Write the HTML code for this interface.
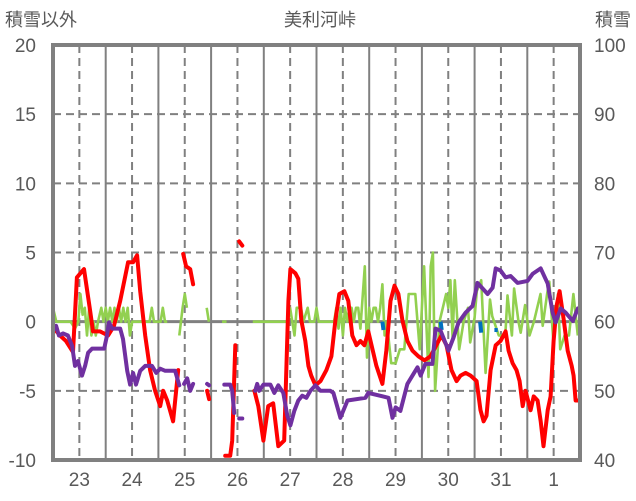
<!DOCTYPE html>
<html><head><meta charset="utf-8">
<style>
html,body{margin:0;padding:0;background:#fff;width:636px;height:501px;overflow:hidden}
svg{display:block;font-family:"Liberation Sans","Noto Sans CJK JP",sans-serif}
</style></head>
<body>
<svg id="chart" width="636" height="501">
<text x="5" y="26" font-size="18" fill="#595959">積雪以外</text>
<text x="320" y="26" font-size="18" fill="#595959" text-anchor="middle">美利河峠</text>
<text x="631" y="26" font-size="18" fill="#595959" text-anchor="end">積雪</text>
<g id="grid"></g><g id="series"></g><g id="axes"></g>
</svg>
<script>
const leftTicks=[20,15,10,5,0,-5,-10];
const rightTicks=[100,90,80,70,60,50,40];
const dayLabels=["23","24","25","26","27","28","29","30","31","1"];
// red series (left axis): hours from 23rd 00:00, values; null = gap
const redH=[0,3.2,5.9,9.1,10.9,14.1,16.9,18.2,21.4,25.1,27.8,30.6,34.2,36.5,38.3,39.7,42,44.2,46.5,48.8,50.2,52,54.7,57,null,59.3,60.6,62.5,63.8,null,70.2,71.1,null,78.4,80.7,81.6,83,null,84.8,86.2,null,91.7,93.5,95.8,98,100.3,102.6,105.3,107.2,108.1,110.4,111.7,113.1,114.9,116.3,117.6,119.5,121.8,124.5,126.8,128.6,130.4,132.7,134.5,136.3,138.2,140,141.8,143.6,147.3,150,151.8,153.7,155.5,157.3,159.1,161.4,163.7,166.4,169.2,171.9,174.6,176.9,179.2,181.5,183.8,185.6,187.9,190.2,192.9,194.7,196.1,197.4,199.3,201.6,203.8,206.1,207.5,209.3,211.1,212.5,213.9,215.2,217.5,218.9,220.7,222.1,223.4,225.3,226.6,228,229.4,230.7,232.6,234.4,236.2,237.1,238,239.4];
const redV=[-0.4,-1.0,-1.4,-2.2,3.2,3.8,0.8,-0.7,-0.7,-1.0,-0.3,1.5,4.3,4.3,4.8,2.2,-1.0,-3.5,-5.0,-6.1,-5.0,-5.7,-7.2,-3.5,null,4.9,4.0,3.8,2.7,null,-5.0,-5.6,null,-9.7,-9.7,-8.6,-1.7,null,5.8,5.5,null,-5.0,-6.1,-8.6,-6.1,-5.9,-9.0,-8.6,1.5,3.8,3.5,3.1,0.1,-1.4,-3.2,-3.9,-4.6,-4.3,-3.5,-2.5,0.1,2.0,2.2,1.5,-1.0,-1.7,-1.4,-1.7,-0.7,-3.2,-4.5,-2.1,1.5,2.6,2.0,0.1,-1.4,-2.1,-2.5,-2.8,-2.5,-1.7,-1.0,-1.7,-3.5,-4.3,-3.9,-3.7,-3.9,-4.3,-6.4,-7.2,-6.8,-3.5,-1.7,-1.4,-0.7,-2.1,-3.0,-3.5,-4.3,-6.1,-5.0,-6.4,-5.4,-5.7,-7.2,-9.0,-6.4,-5.4,-1.4,1.2,2.2,0.1,-2.1,-3.2,-3.9,-5.7,-5.7];
// purple snow depth (right axis)
const snowH=[0,1.4,2.7,4.6,6.8,8.7,10,11.4,13.2,14.6,16,17.8,21.4,23.3,24.6,25.5,26.9,30.6,31.9,33.8,35.1,36.5,37.8,39.7,42,45.1,47,48.8,51.1,55.6,57.5,null,59.7,61.1,62.5,63.8,null,70.2,71.1,null,78,80.7,81.6,82.5,null,84.8,86.2,null,92.1,93,93.9,95.8,99,100.8,102.6,104.9,106.7,108.1,109.9,111.7,113.5,115.4,117.2,119.5,121.8,126.3,127.7,130.9,134.1,142.3,143.6,152.8,154.6,156,158.2,161.4,166,167.4,169.6,172.8,174.2,176.5,180.1,182.4,184.7,187.9,191.1,193.3,197.9,200.2,201.6,203.8,206.1,208.4,211.6,216.1,218.4,222.1,225.3,227.5,228.9,231.2,233.5,236.7,239];
const snowV=[58.7,59.4,58,58.3,58,56.5,53.6,54.3,52.2,53.6,55.5,56.1,56.1,56.1,58,59.9,59,59,57.5,52.9,50.9,52.6,50.9,52.9,53.6,53.6,52.6,53.2,52.9,52.9,50.8,null,51,51.8,50,51,null,51,50.8,null,50.9,50.9,50,46.8,null,46,46,null,50,51,50,50.9,50.9,49.7,50.8,49.7,46.4,45,47.1,48.6,49.3,49,50,50.8,50,50,49.7,46.1,48.6,49,49.7,49,46.1,47.6,47.1,51,53.4,52.2,53.9,53.9,59,58.7,55.8,57.7,59.9,61.3,62.3,65.6,64,64.9,67.7,67.4,66.4,66.6,65.6,65.9,66.9,67.7,65.5,61.3,59.9,61.9,61.3,60.1,61.9];
// green series (left axis)
const greenH=[0,1.5,8,10,11.5,12.5,13.5,14.5,15.5,16.5,17.5,18.5,19.5,20.5,22,23,24,25,26,27,28,29,30,31,32,33,34,35,36,44,45,46,49,50,51,52,null,57.5,59,60,61,null,70,71,null,77,79,null,91,107,108,109,110,111,112,113,114,116,117,119,120,121,128,129,130,131,132,133,134,135,136,137,138,139,140,142,143,144,145,146,147,148,149,150,151,152,154,156,158,160,162,165,167,169,171,172,173,174,176,179,180,181,182,183,185,187,189,190,192,193,195,197,199,200,203,206,207,209,210,212,213,215,217,219,222,223,225,226,228,230,231,233,235,237,239];
const greenV=[1,0,0,-0.5,0,2,0.5,1,-1,1,-1,0,-1,0,1,0,1,0,1,0,1,0,1,0,1,0,1,-1,0,0,1,0,0,1,0,0,null,-1,1,2,1,null,1,0,null,0,0,null,0,0,1,0,-1,1,1,1,0,1,0,0,1,0,0,1,-0.5,1,-1,1,0,1,1,0,1,1,-0.5,4,-2.6,1,0,1,1,0,1,2.7,-1,0,-3,-3,-2,-2,2,2,-2,4,-4,4,5,-5,0,2,1,3,-1.2,3,-2,0,1,-1.5,0.3,2.2,3,-3.7,1.6,0.4,-1,-1,1.9,-1,2.4,0,-0.8,1.2,-1,0,2,-0.3,2,2.9,-1.7,2,-2,-1,-1,2,-1];
// blue small series (left axis)
const blueH=[null,150,150.5,null,176.5,177,null,194.5,195,null,201,202.5];
const blueV=[null,0,-0.6,null,0,-0.6,null,0,-0.8,null,-0.6,-0.6];

const X0=53,X1=580,Y0=45,Y1=460;
const xs=h=>X0+h/240*(X1-X0);
const yl=v=>Y1-(v+10)/30*(Y1-Y0);
const yr=v=>Y1-(v-40)/60*(Y1-Y0);
const NS="http://www.w3.org/2000/svg";
function mk(tag,attrs,parent){const e=document.createElementNS(NS,tag);for(const k in attrs)e.setAttribute(k,attrs[k]);parent.appendChild(e);return e;}
const grid=document.getElementById('grid'),ser=document.getElementById('series'),axes=document.getElementById('axes');
leftTicks.forEach(t=>{
  const y=yl(t);
  if(t!==20&&t!==-10&&t!==0){const l=mk('line',{x1:X0,x2:X1,y1:y,y2:y,stroke:'#808080','stroke-width':2,'stroke-dasharray':'8,5'},grid);
  
  }
  const tx=mk('text',{x:36,y:y+7,'font-size':19,fill:'#595959','text-anchor':'end'},axes);tx.textContent=t;
  
  
});
rightTicks.forEach(t=>{
  const tx=mk('text',{x:594,y:yr(t)+7,'font-size':19,fill:'#595959'},axes);tx.textContent=t;
  
  
});
dayLabels.forEach((d,i)=>{
  const xm=xs(i*24+12);
  const l=mk('line',{x1:xm,x2:xm,y1:Y0,y2:Y1,stroke:'#808080','stroke-width':2,'stroke-dasharray':'8,5'},grid);
  
  
  if(i>0){const xb=xs(i*24);const b=mk('line',{x1:xb,x2:xb,y1:Y0,y2:Y1,stroke:'#808080','stroke-width':2},grid);
  
  }
  const tx=mk('text',{x:xm,y:486,'font-size':19,fill:'#595959','text-anchor':'middle'},axes);tx.textContent=d;
  
  
});
const z=mk('line',{x1:X0,x2:X1,y1:yl(0),y2:yl(0),stroke:'#808080','stroke-width':3},grid);


function path(H,V,yf){let d='',pen=false;for(let i=0;i<H.length;i++){if(H[i]===null||V[i]===null){pen=false;continue;}d+=(pen?'L':'M')+xs(H[i]).toFixed(1)+','+yf(V[i]).toFixed(1);pen=true;}return d;}
const g=mk('path',{d:path(greenH,greenV,yl),fill:'none',stroke:'#92d050','stroke-width':2.6,'stroke-linejoin':'round'},ser);


const bl=mk('path',{d:path(blueH,blueV,yl),fill:'none',stroke:'#0070c0','stroke-width':4},ser);


const r=mk('path',{d:path(redH,redV,yl),fill:'none',stroke:'#ff0000','stroke-width':4,'stroke-linejoin':'round','stroke-linecap':'round'},ser);


const p=mk('path',{d:path(snowH,snowV,yr),fill:'none',stroke:'#7030a0','stroke-width':4,'stroke-linejoin':'round','stroke-linecap':'round'},ser);


const box=mk('rect',{x:X0,y:Y0,width:X1-X0,height:Y1-Y0,fill:'none',stroke:'#808080','stroke-width':4},axes);


</script>
</body></html>
